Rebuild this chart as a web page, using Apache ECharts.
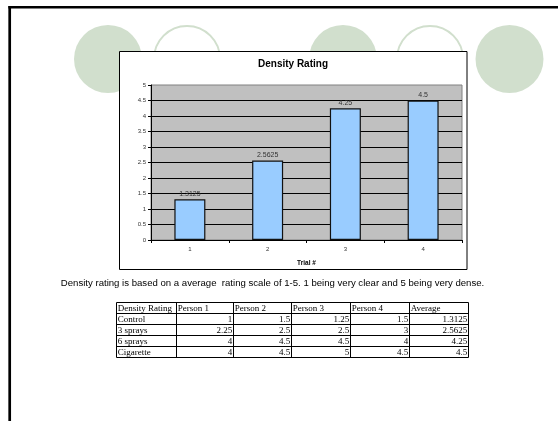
<!DOCTYPE html>
<html><head><meta charset="utf-8">
<script src="https://cdn.jsdelivr.net/npm/echarts@6/dist/echarts.min.js"></script>
<style>html,body{margin:0;padding:0;background:#fff}#c{width:558px;height:421px}</style>
</head><body><div id="c"></div>
<script>
// ---- data ----
const trials = ['1', '2', '3', '4'];
const averageRatings = [1.3125, 2.5625, 4.25, 4.5];
const tableHeader = ['Density Rating', 'Person 1', 'Person 2', 'Person 3', 'Person 4', 'Average'];
const rowLabels = ['Control', '3 sprays', '6 sprays', 'Cigarette'];
const person1 = [1, 2.25, 4, 4];
const person2 = [1.5, 2.5, 4.5, 4.5];
const person3 = [1.25, 2.5, 4.5, 5];
const person4 = [1.5, 3, 4, 4.5];
const caption = 'Density rating is based on a average  rating scale of 1-5. 1 being very clear and 5 being very dense.';

// ---- layout ----
const circleColor = '#d1dfcd';
const circles = [
  {cx: 108, filled: true}, {cx: 187, filled: false}, {cx: 343, filled: true},
  {cx: 430, filled: false}, {cx: 509.5, filled: true}
];
const colX = [116.5, 176.5, 233.5, 291.5, 350.5, 409.5, 468.5];
const rowY = [302.5, 313.5, 324.5, 335.5, 346.5, 357.5];

const g = [];
// slide frame
g.push({type: 'line', z: -20, shape: {x1: 8.4, y1: 7.2, x2: 558, y2: 7.2}, style: {stroke: '#000', lineWidth: 2.4}});
g.push({type: 'line', z: -20, shape: {x1: 9.7, y1: 6, x2: 9.7, y2: 421}, style: {stroke: '#000', lineWidth: 2.7}});
// circles
circles.forEach(c => {
  if (c.filled) {
    g.push({type: 'circle', z: -15, shape: {cx: c.cx, cy: 59, r: 34}, style: {fill: circleColor}});
  } else {
    g.push({type: 'circle', z: -15, shape: {cx: c.cx, cy: 59, r: 33}, style: {fill: '#fff', stroke: circleColor, lineWidth: 2}});
  }
});
// chart box
g.push({type: 'rect', z: -10, shape: {x: 119.5, y: 51.5, width: 347.5, height: 218}, style: {fill: '#fff', stroke: '#000', lineWidth: 1}});
// caption
g.push({type: 'text', z: 1, style: {text: caption, x: 272.5, y: 283, textAlign: 'center', textVerticalAlign: 'middle', fill: '#000', font: '9.6px Arial, "Liberation Sans", sans-serif'}});
// table grid
rowY.forEach(y => g.push({type: 'line', z: 1, shape: {x1: colX[0], y1: y, x2: colX[colX.length - 1], y2: y}, style: {stroke: '#000', lineWidth: 1}}));
colX.forEach(x => g.push({type: 'line', z: 1, shape: {x1: x, y1: rowY[0], x2: x, y2: rowY[rowY.length - 1]}, style: {stroke: '#000', lineWidth: 1}}));
const tFont = '9px "Liberation Serif", "Times New Roman", serif';
function cellText(txt, col, row, right) {
  const yc = (rowY[row] + rowY[row + 1]) / 2 + 0.3;
  g.push({type: 'text', z: 2, style: {text: String(txt), x: right ? colX[col + 1] - 1.2 : colX[col] + 1.2, y: yc,
    textAlign: right ? 'right' : 'left', textVerticalAlign: 'middle', fill: '#000', font: tFont}});
}
tableHeader.forEach((h, i) => cellText(h, i, 0, false));
rowLabels.forEach((lab, r) => {
  cellText(lab, 0, r + 1, false);
  [person1, person2, person3, person4, averageRatings].forEach((arr, k) => cellText(arr[r], k + 1, r + 1, true));
});

const chart = echarts.init(document.getElementById('c'));
chart.setOption({
  animation: false,
  backgroundColor: '#fff',
  title: {text: 'Density Rating', left: 258, top: 59, padding: 0,
    textStyle: {fontSize: 10, fontWeight: 'bold', fontFamily: 'Arial, "Liberation Sans", sans-serif', color: '#000'}},
  grid: {left: 151, top: 85, width: 311, height: 155, show: true, backgroundColor: '#c0c0c0',
    borderColor: '#808080', borderWidth: 1, containLabel: false, outerBoundsMode: 'none'},
  xAxis: {type: 'category', data: trials,
    axisLine: {show: true, lineStyle: {color: '#000', width: 1}},
    axisTick: {show: true, length: 3, lineStyle: {color: '#000'}},
    axisLabel: {fontSize: 6, color: '#333', margin: 6, fontFamily: 'Arial, "Liberation Sans", sans-serif'},
    splitLine: {show: false},
    name: 'Trial #', nameLocation: 'middle', nameGap: 20,
    nameTextStyle: {fontSize: 6.5, fontWeight: 'bold', color: '#000', fontFamily: 'Arial, "Liberation Sans", sans-serif'}},
  yAxis: {type: 'value', min: 0, max: 5, interval: 0.5,
    axisLine: {show: true, lineStyle: {color: '#000', width: 1}},
    axisTick: {show: true, length: 3, lineStyle: {color: '#000'}},
    axisLabel: {fontSize: 6, color: '#333', margin: 5, fontFamily: 'Arial, "Liberation Sans", sans-serif'},
    splitLine: {show: true, showMaxLine: false, lineStyle: {color: '#000', width: 1}}},
  series: [{type: 'bar', data: averageRatings, barWidth: 31,
    itemStyle: {color: '#99ccff', borderColor: '#111', borderWidth: 1.2},
    label: {show: true, position: 'top', distance: 2, fontSize: 7, color: '#333',
      fontFamily: 'Arial, "Liberation Sans", sans-serif'}}],
  graphic: {elements: g}
});
</script>
</body></html>
